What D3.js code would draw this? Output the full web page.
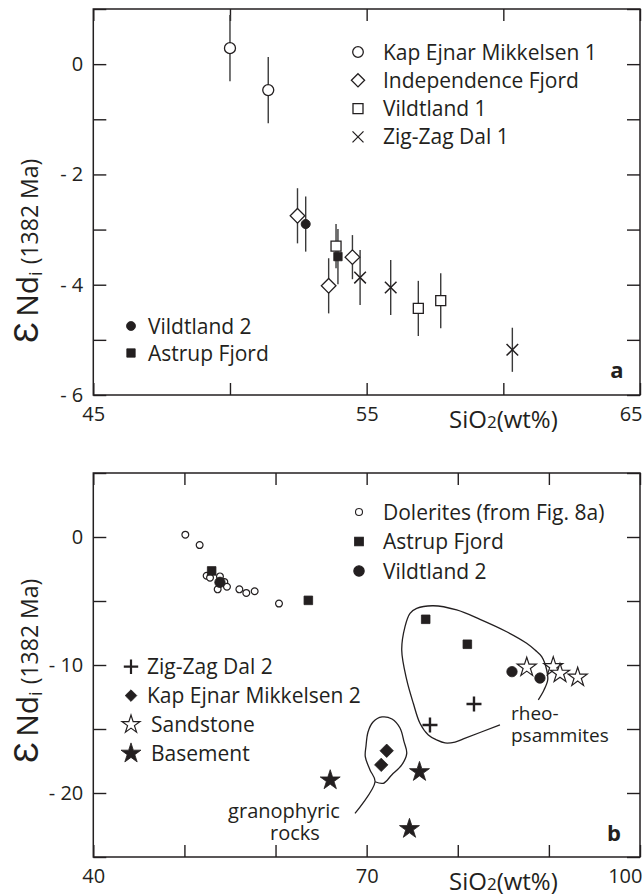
<!DOCTYPE html>
<html><head><meta charset="utf-8">
<script src="https://cdn.jsdelivr.net/npm/d3@7"></script>
<style>
body{margin:0;background:#fff}
svg{display:block}
text{font-family:"Open Sans",sans-serif;fill:#231f20}
</style>
</head><body>
<svg id="c" width="643" height="896"></svg>
<script>
// ---------- Panel a data (SiO2 wt%, eNd, error half-width) ----------
const kem1X=[50.0,51.4], kem1Y=[0.29,-0.47], kem1E=[0.6,0.6];
const indX=[52.47,53.61,54.48], indY=[-2.75,-4.02,-3.5], indE=[0.5,0.5,0.4];
const vil1X=[53.88,56.89,57.71], vil1Y=[-3.3,-4.43,-4.29], vil1E=[0.4,0.5,0.5];
const zzd1X=[54.76,55.88,60.33], zzd1Y=[-3.87,-4.05,-5.18], zzd1E=[0.5,0.5,0.4];
const vil2aX=[52.77], vil2aY=[-2.9], vil2aE=[0.5];
const astaX=[53.95], astaY=[-3.49], astaE=[0.5];

// ---------- Panel b data ----------
const dolX=[50.1,51.67,52.44,52.81,53.9,53.65,54.38,54.67,56.03,56.79,57.71,60.38];
const dolY=[0.18,-0.63,-3.03,-3.18,-3.08,-4.09,-3.51,-3.89,-4.09,-4.37,-4.24,-5.2];
const astbX=[52.99,63.6,76.48,81.05], astbY=[-2.65,-4.95,-6.43,-8.38];
const vil2bX=[53.9,85.95,89.02], vil2bY=[-3.54,-10.52,-11.02];
const sandX=[87.57,90.48,91.22,93.16], sandY=[-10.18,-10.13,-10.65,-10.96];
const zzd2X=[81.78,76.95], zzd2Y=[-13.05,-14.69];
const kem2X=[72.2,71.6], kem2Y=[-16.7,-17.8];
const baseX=[66.0,75.8,74.7], baseY=[-19.0,-18.35,-22.8];

// outlines (data units)
const rheoX=[84.63,80.61,79.70,78.60,77.69,76.77,75.85,75.12,74.40,73.85,74.21,74.76,75.49,77.31,79.88,82.44,85.37,87.56,88.48,89.21,89.76,89.87,89.46,88.84];
const rheoY=[-14.68,-15.77,-16.02,-16.09,-15.86,-15.47,-14.55,-12.99,-11.17,-8.83,-7.0,-5.96,-5.57,-5.37,-5.70,-6.43,-7.40,-8.30,-8.83,-9.35,-10.39,-11.17,-11.95,-12.73];
const granX=[68.72,70.92,70.37,69.85,69.93,70.15,70.70,71.69,72.78,73.66,74.10,74.40,73.85,72.75,71.83,70.92];
const granY=[-21.59,-19.12,-18.20,-17.16,-16.33,-15.23,-14.45,-14.06,-14.22,-14.92,-15.99,-16.90,-17.81,-18.59,-19.24,-19.12];

// axes
const xTicksA=[45,50,55,60,65], xLabA=[45,55,65];
const yTicksA=[-6,-5,-4,-3,-2,-1,0,1], yLabA=[-6,-4,-2,0];
const xTicksB=[40,50,60,70,80,90,100], xLabB=[40,70,100];
const yTicksB=[-25,-20,-15,-10,-5,0,5], yLabB=[-20,-10,0];

const legA1=["Kap Ejnar Mikkelsen 1","Independence Fjord","Vildtland 1","Zig-Zag Dal 1"];
const legA2=["Vildtland 2","Astrup Fjord"];
const legB1=["Dolerites (from Fig. 8a)","Astrup Fjord","Vildtland 2"];
const legB2=["Zig-Zag Dal 2","Kap Ejnar Mikkelsen 2","Sandstone","Basement"];

const INK="#231f20";
const svg=d3.select("#c");
svg.append("rect").attr("width",643).attr("height",896).attr("fill","#fff");

// custom symbol types (size = r^2)
const tCircle={draw(c,s){const r=Math.sqrt(s);c.moveTo(r,0);c.arc(0,0,r,0,2*Math.PI);}};
const tSquare={draw(c,s){const r=Math.sqrt(s);c.rect(-r,-r,2*r,2*r);}};
const tDiamond={draw(c,s){const r=Math.sqrt(s);c.moveTo(0,-r);c.lineTo(r,0);c.lineTo(0,r);c.lineTo(-r,0);c.closePath();}};
const tX={draw(c,s){const r=Math.sqrt(s);c.moveTo(-r,-r);c.lineTo(r,r);c.moveTo(r,-r);c.lineTo(-r,r);}};
const tPlus={draw(c,s){const r=Math.sqrt(s);c.moveTo(-r,0);c.lineTo(r,0);c.moveTo(0,-r);c.lineTo(0,r);}};
const tStar={draw(c,s){const R=Math.sqrt(s),ri=R*0.382;for(let i=0;i<10;i++){const a=-Math.PI/2+i*Math.PI/5,rr=i%2?ri:R;const px=rr*Math.cos(a),py=rr*Math.sin(a);i?c.lineTo(px,py):c.moveTo(px,py);}c.closePath();}};
const sym=(t,r)=>d3.symbol().type(t).size(r*r)();

function zip(X,Y,E){return X.map((v,i)=>({x:v,y:Y[i],e:E?E[i]:0}));}

function axes(g,x,y,xt,xl,yt,yl){
  const [x0,x1]=x.range(), [y0,y1]=y.range();
  const fmt=d=>d<0?"- "+Math.abs(d):String(d);
  const b=g.append("g").attr("transform",`translate(0,${y0})`)
    .call(d3.axisBottom(x).tickValues(xt).tickSize(-12).tickPadding(12).tickFormat(d=>xl.includes(d)?fmt(d):""));
  g.append("g").attr("transform",`translate(0,${y1})`)
    .call(d3.axisTop(x).tickValues(xt).tickSize(-12).tickFormat(""));
  g.append("g").attr("transform",`translate(${x0},0)`)
    .call(d3.axisLeft(y).tickValues(yt).tickSize(-13).tickPadding(10).tickFormat(d=>yl.includes(d)?fmt(d):""));
  g.append("g").attr("transform",`translate(${x1},0)`)
    .call(d3.axisRight(y).tickValues(yt).tickSize(-13).tickFormat(""));
  g.selectAll(".domain").remove();
  g.selectAll(".tick line").attr("stroke",INK).attr("stroke-width",1.4);
  g.selectAll(".tick text").attr("font-size",20).attr("font-family","Open Sans").attr("fill",INK);
  b.selectAll(".tick text").filter(d=>d===xt[xt.length-1]).attr("text-anchor","end").attr("x",2);
  g.append("rect").attr("x",x0).attr("y",y1).attr("width",x1-x0).attr("height",y0-y1)
    .attr("fill","none").attr("stroke",INK).attr("stroke-width",1.5);
}

function ylabel(g,tx,ty){
  const t=g.append("text").attr("transform",`translate(${tx},${ty}) rotate(-90)`).attr("fill",INK);
  t.append("tspan").attr("font-size",35).text("Ɛ");
  t.append("tspan").attr("font-size",30).attr("dx",5).text("Nd");
  t.append("tspan").attr("font-size",18).attr("dy",4).text("i");
  t.append("tspan").attr("font-size",23).attr("dy",-4).attr("dx",7).text("(1382 Ma)");
}
function xlabel(g,tx,ty){
  const t=g.append("text").attr("x",tx).attr("y",ty).attr("font-size",24).attr("fill",INK);
  t.append("tspan").text("SiO");
  t.append("tspan").attr("font-size",17).text("2");
  t.append("tspan").text("(wt%)");
}
function twoLines(g,x1,y1,s1,x2,dy,s2,anchor,size){
  const t=g.append("text").attr("font-size",size).attr("text-anchor",anchor);
  t.append("tspan").attr("x",x1).attr("y",y1).text(s1);
  t.append("tspan").attr("x",x2).attr("dy",dy).text(s2);
}
function points(g,x,y,data,type,r,fill,sw){
  g.selectAll(null).data(data).enter().append("path")
    .attr("transform",d=>`translate(${x(d.x)},${y(d.y)})`)
    .attr("d",sym(type,r)).attr("fill",fill).attr("stroke",INK).attr("stroke-width",sw);
}
function errbars(g,x,y,data){
  g.selectAll(null).data(data).enter().append("line")
    .attr("x1",d=>x(d.x)).attr("x2",d=>x(d.x)).attr("y1",d=>y(d.y+d.e)).attr("y2",d=>y(d.y-d.e))
    .attr("stroke","#3a3a3a").attr("stroke-width",1.4);
}

// ================= Panel a =================
const xA=d3.scaleLinear().domain([45,65]).range([93.3,640]);
const yA=d3.scaleLinear().domain([-6,1]).range([395,9]);
const gA=svg.append("g");
axes(gA,xA,yA,xTicksA,xLabA,yTicksA,yLabA);
ylabel(gA,38,343);
xlabel(gA,449,428);
gA.append("text").attr("x",617).attr("y",378).attr("text-anchor","middle").attr("font-size",22).attr("font-weight","bold").text("a");

const sA=[zip(kem1X,kem1Y,kem1E),zip(indX,indY,indE),zip(vil1X,vil1Y,vil1E),zip(zzd1X,zzd1Y,zzd1E),zip(vil2aX,vil2aY,vil2aE),zip(astaX,astaY,astaE)];
sA.forEach(s=>errbars(gA,xA,yA,s));
points(gA,xA,yA,sA[0],tCircle,5.5,"#fff",1.3);
points(gA,xA,yA,sA[4],tCircle,4.5,INK,1);
points(gA,xA,yA,sA[1],tDiamond,7.3,"#fff",1.3);
points(gA,xA,yA,sA[2],tSquare,5,"#fff",1.3);
points(gA,xA,yA,sA[5],tSquare,4.2,INK,0.8);
points(gA,xA,yA,sA[3],tX,5.8,"none",1.5);

// legend a (upper right)
const la1Types=[[tCircle,5.3],[tDiamond,6.6],[tSquare,5],[tX,5.5]];
legA1.forEach((t,i)=>{
  const cy=52+i*28.3;
  gA.append("path").attr("transform",`translate(358,${cy})`).attr("d",sym(la1Types[i][0],la1Types[i][1]))
    .attr("fill",i===3?"none":"#fff").attr("stroke",INK).attr("stroke-width",1.3);
  gA.append("text").attr("x",383).attr("y",cy+7.5).attr("font-size",21).text(t);
});
const la2Types=[[tCircle,4.5],[tSquare,4.2]];
legA2.forEach((t,i)=>{
  const cy=326+i*27;
  gA.append("path").attr("transform",`translate(131,${cy})`).attr("d",sym(la2Types[i][0],la2Types[i][1]))
    .attr("fill",INK).attr("stroke",INK).attr("stroke-width",0.8);
  gA.append("text").attr("x",148).attr("y",cy+7.5).attr("font-size",21).text(t);
});

// ================= Panel b =================
const xB=d3.scaleLinear().domain([40,100]).range([93.3,640]);
const yB=d3.scaleLinear().domain([-25,5]).range([857,473]);
const gB=svg.append("g");
axes(gB,xB,yB,xTicksB,xLabB,yTicksB,yLabB);
ylabel(gB,38,763);
xlabel(gB,449,890);
gB.append("text").attr("x",614).attr("y",841).attr("text-anchor","middle").attr("font-size",22).attr("font-weight","bold").text("b");

const line=d3.line().x(d=>xB(d.x)).y(d=>yB(d.y)).curve(d3.curveCatmullRom.alpha(0.5));
gB.append("path").attr("d",line(zip(rheoX,rheoY))).attr("fill","none").attr("stroke",INK).attr("stroke-width",1.3);
gB.append("path").attr("d",line(zip(granX,granY))).attr("fill","none").attr("stroke",INK).attr("stroke-width",1.3);

points(gB,xB,yB,zip(dolX,dolY),tCircle,3.4,"#fff",1.2);
points(gB,xB,yB,zip(astbX,astbY),tSquare,4.3,INK,0.8);
points(gB,xB,yB,zip(vil2bX,vil2bY),tCircle,5.2,INK,0.8);
points(gB,xB,yB,zip(sandX,sandY),tStar,10,"#fff",1.2);
points(gB,xB,yB,zip(zzd2X,zzd2Y),tPlus,7.5,"none",2.4);
points(gB,xB,yB,zip(kem2X,kem2Y),tDiamond,6.7,INK,0.8);
points(gB,xB,yB,zip(baseX,baseY),tStar,10.5,INK,0.8);

// annotations
twoLines(gB,284,818,"granophyric",295,22,"rocks","middle",20);
twoLines(gB,511,720,"rheo-",511,22,"psammites","start",19);

// legend b upper
const lb1=[[tCircle,3.5,"#fff"],[tSquare,4.3,INK],[tCircle,5.2,INK]];
legB1.forEach((t,i)=>{
  const cy=512+i*29.5;
  gB.append("path").attr("transform",`translate(359,${cy})`).attr("d",sym(lb1[i][0],lb1[i][1]))
    .attr("fill",lb1[i][2]).attr("stroke",INK).attr("stroke-width",1.1);
  gB.append("text").attr("x",383).attr("y",cy+7.5).attr("font-size",21).text(t);
});
// legend b lower
const lb2=[[tPlus,7.2,"none",2.2,147],[tDiamond,5.8,INK,0.8,147],[tStar,9.5,"#fff",1.2,151],[tStar,10.5,INK,0.8,151]];
legB2.forEach((t,i)=>{
  const cy=666.7+i*28.9;
  gB.append("path").attr("transform",`translate(131,${cy})`).attr("d",sym(lb2[i][0],lb2[i][1]))
    .attr("fill",lb2[i][2]).attr("stroke",INK).attr("stroke-width",lb2[i][3]);
  gB.append("text").attr("x",lb2[i][4]).attr("y",cy+7.5).attr("font-size",21).text(t);
});
</script>
</body></html>
